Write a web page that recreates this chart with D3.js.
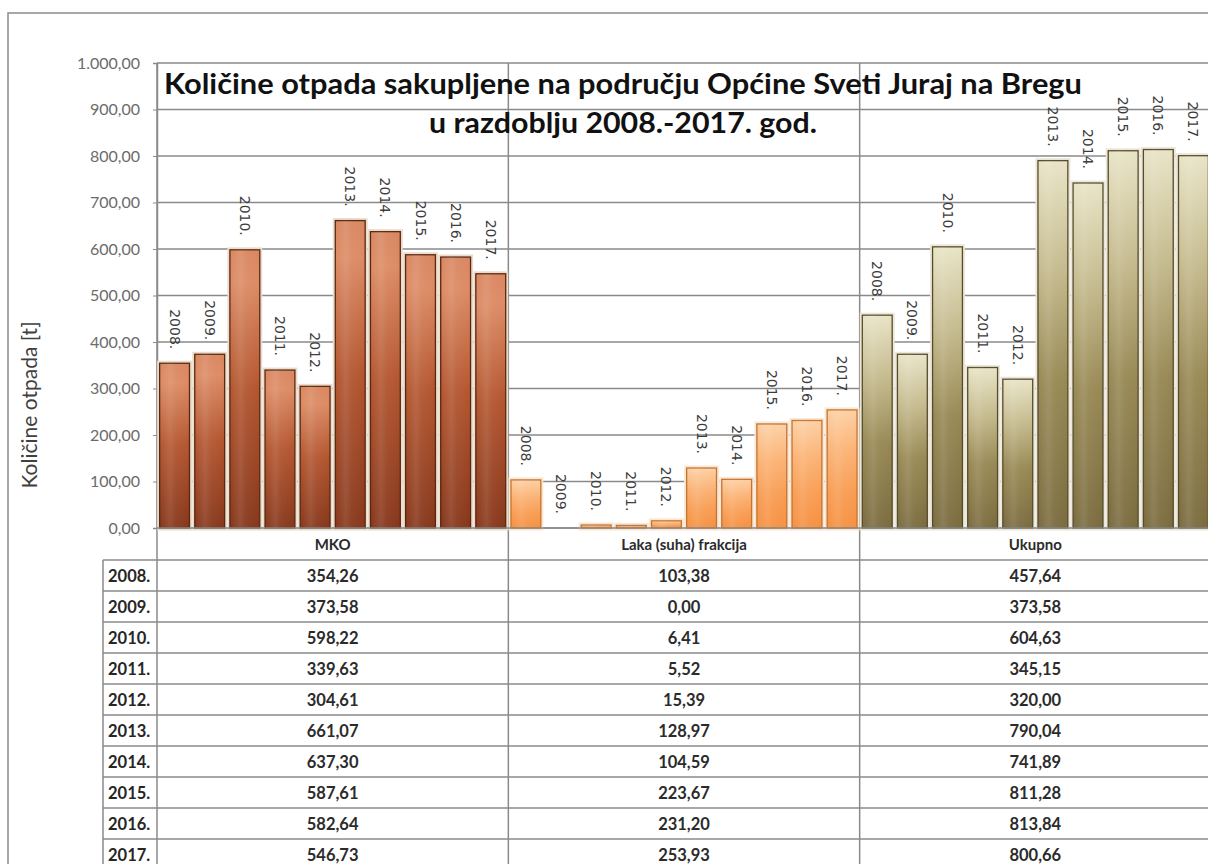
<!DOCTYPE html>
<html>
<head>
<meta charset="utf-8">
<script src="https://cdn.jsdelivr.net/npm/d3@7"></script>
<style>
  html, body { margin: 0; padding: 0; background: #ffffff; }
  svg { display: block; }
</style>
</head>
<body>
<svg id="chart" width="1208" height="864"></svg>
<script>
// ---- data ----
const categories = ["MKO", "Laka (suha) frakcija", "Ukupno"];
const years = ["2008.", "2009.", "2010.", "2011.", "2012.", "2013.", "2014.", "2015.", "2016.", "2017."];
const mko = [354.26, 373.58, 598.22, 339.63, 304.61, 661.07, 637.30, 587.61, 582.64, 546.73];
const laka = [103.38, 0.00, 6.41, 5.52, 15.39, 128.97, 104.59, 223.67, 231.20, 253.93];
const ukupno = [457.64, 373.58, 604.63, 345.15, 320.00, 790.04, 741.89, 811.28, 813.84, 800.66];
const yTicks = [0, 100, 200, 300, 400, 500, 600, 700, 800, 900, 1000];
const titleLines = ["Količine otpada sakupljene na području Općine Sveti Juraj na Bregu",
                    "u razdoblju 2008.-2017. god."];
const yTitle = "Količine otpada [t]";

// ---- styles ----
const gradStops = [
  [["0%", "#d98660"], ["12%", "#dc8b64"], ["50%", "#b3552f"], ["100%", "#86361a"]],
  [["0%", "#fdd0a4"], ["35%", "#fbb274"], ["70%", "#f89c52"], ["100%", "#f69040"]],
  [["0%", "#e8e4c6"], ["30%", "#c4b98c"], ["60%", "#978853"], ["100%", "#7a6b3e"]]
];
const strokeCols = ["#5a2812", "#c27433", "#554c30"];
const haloCols = ["#eadccb", "#fbe6d2", "#ebe6d6"];
const gridCol = "#8a8a8a";
const FONT = "Lato, 'Open Sans', 'Liberation Sans', sans-serif";

const seriesByCat = [mko, laka, ukupno];

const svg = d3.select("#chart");
const plot = { left: 157, right: 1211, top: 63, bottom: 528 };
const tableTop = 560, rowH = 31, rowLabelX = 103;

const locale = d3.formatLocale({ decimal: ",", thousands: ".", grouping: [3], currency: ["", ""] });
const fmt = locale.format(",.2f");

const x0 = d3.scaleBand().domain(categories).range([plot.left, plot.right]).paddingInner(0).paddingOuter(0);
const x1 = d3.scaleBand().domain(years).range([0, x0.bandwidth()]).paddingInner(0.15).paddingOuter(0.075);
const y = d3.scaleLinear().domain([0, 1000]).range([plot.bottom, plot.top]);

// gradients
const defs = svg.append("defs");
gradStops.forEach((stops, i) => {
  const g = defs.append("linearGradient").attr("id", "grad" + i)
    .attr("x1", 0).attr("y1", 0).attr("x2", 0).attr("y2", 1);
  stops.forEach(s => g.append("stop").attr("offset", s[0]).attr("stop-color", s[1]));
});
const sheen = defs.append("linearGradient").attr("id", "sheen").attr("x1", 0).attr("x2", 1).attr("y1", 0).attr("y2", 0);
[["0%", 0], ["35%", 0.12], ["55%", 0.05], ["100%", 0]].forEach(s =>
  sheen.append("stop").attr("offset", s[0]).attr("stop-color", "#ffffff").attr("stop-opacity", s[1]));

// outer chart border
svg.append("path").attr("d", "M8,864 L8,13 L1208,13")
  .attr("fill", "none").attr("stroke", "#8c8c8c").attr("stroke-width", 1.5);

// gridlines
svg.append("g").selectAll("line").data(yTicks).join("line")
  .attr("x1", plot.left).attr("x2", plot.right)
  .attr("y1", d => y(d)).attr("y2", d => y(d))
  .attr("stroke", gridCol).attr("stroke-width", 1.5);

// category separators (plot + table)
svg.append("g").selectAll("line").data(categories.map(c => x0(c)).concat([plot.right])).join("line")
  .attr("x1", d => d).attr("x2", d => d)
  .attr("y1", plot.top).attr("y2", 864)
  .attr("stroke", gridCol).attr("stroke-width", 1.5);

// y axis
const yAxis = d3.axisLeft(y).tickValues(yTicks).tickFormat(fmt).tickSize(4).tickPadding(13);
const ga = svg.append("g").attr("transform", `translate(${plot.left},0)`).call(yAxis);
ga.select(".domain").attr("stroke", gridCol).attr("stroke-width", 1.5);
ga.selectAll(".tick line").attr("stroke", gridCol);
ga.selectAll(".tick text").attr("fill", "#6b6b6b").style("font-family", FONT).style("font-size", "16px");

// y title
svg.append("text")
  .attr("transform", "translate(37,405) rotate(-90)")
  .attr("text-anchor", "middle")
  .attr("fill", "#404040")
  .style("font-family", FONT).style("font-size", "21px")
  .text(yTitle);

// bars
categories.forEach((cat, ci) => {
  const vals = seriesByCat[ci];
  const g = svg.append("g").attr("transform", `translate(${x0(cat)},0)`);
  const data = years.map((yr, i) => ({ yr, v: vals[i] }));
  // light halo behind bars (visible in the gaps)
  g.selectAll("rect.halo").data(data.filter(d => d.v > 0)).join("rect").attr("class", "halo")
    .attr("x", d => x1(d.yr)).attr("width", x1.bandwidth())
    .attr("y", d => y(d.v)).attr("height", d => y(0) - y(d.v))
    .attr("fill", "none").attr("stroke", haloCols[ci]).attr("stroke-width", 5);
  const bars = g.selectAll("g.bar").data(data).join("g").attr("class", "bar");
  bars.append("rect")
    .attr("x", d => x1(d.yr)).attr("width", x1.bandwidth())
    .attr("y", d => y(d.v)).attr("height", d => y(0) - y(d.v))
    .attr("fill", `url(#grad${ci})`)
    .attr("stroke", strokeCols[ci]).attr("stroke-width", 1.3);
  bars.append("rect")
    .attr("x", d => x1(d.yr)).attr("width", x1.bandwidth())
    .attr("y", d => y(d.v)).attr("height", d => y(0) - y(d.v))
    .attr("fill", "url(#sheen)");
  // data labels (series name), rotated
  bars.append("text")
    .attr("transform", d => `translate(${x1(d.yr) + x1.bandwidth() / 2},${y(d.v) - 14}) rotate(90)`)
    .attr("text-anchor", "end")
    .attr("dominant-baseline", "central")
    .attr("fill", "#3c3c3c")
    .style("font-family", "'DejaVu Sans', sans-serif").style("font-size", "14px")
    .text(d => d.yr);
});

// x axis line
svg.append("line").attr("x1", plot.left).attr("x2", plot.right)
  .attr("y1", plot.bottom).attr("y2", plot.bottom)
  .attr("stroke", gridCol).attr("stroke-width", 1.5);

// data table
const tbl = svg.append("g");
tbl.selectAll("line.h").data(d3.range(years.length + 1)).join("line").attr("class", "h")
  .attr("x1", rowLabelX).attr("x2", plot.right)
  .attr("y1", i => tableTop + i * rowH).attr("y2", i => tableTop + i * rowH)
  .attr("stroke", gridCol).attr("stroke-width", 1.5);
tbl.append("line").attr("x1", rowLabelX).attr("x2", rowLabelX)
  .attr("y1", tableTop).attr("y2", 864).attr("stroke", gridCol).attr("stroke-width", 1.5);
tbl.selectAll("text.hd").data(categories).join("text").attr("class", "hd")
  .attr("x", d => x0(d) + x0.bandwidth() / 2).attr("y", (plot.bottom + tableTop) / 2)
  .attr("text-anchor", "middle").attr("dominant-baseline", "central")
  .attr("fill", "#2b2b2b").style("font-family", FONT).style("font-size", "15px").style("font-weight", "bold")
  .text(d => d);
tbl.selectAll("text.rl").data(years).join("text").attr("class", "rl")
  .attr("x", rowLabelX + 5).attr("y", (d, i) => tableTop + i * rowH + rowH / 2)
  .attr("dominant-baseline", "central")
  .attr("fill", "#262626").style("font-family", FONT).style("font-size", "16.5px").style("font-weight", "bold")
  .text(d => d);
categories.forEach((cat, ci) => {
  tbl.append("g").selectAll("text").data(seriesByCat[ci]).join("text")
    .attr("x", x0(cat) + x0.bandwidth() / 2)
    .attr("y", (d, i) => tableTop + i * rowH + rowH / 2)
    .attr("text-anchor", "middle").attr("dominant-baseline", "central")
    .attr("fill", "#2b2b2b").style("font-family", FONT).style("font-size", "16.5px").style("font-weight", "bold")
    .text(d => fmt(d));
});

// title (drawn on top, no background)
const titleX = 623;
svg.append("text").attr("x", titleX).attr("y", 94).attr("text-anchor", "middle")
  .attr("fill", "#111").style("font-family", FONT).style("font-size", "28px").style("font-weight", "bold")
  .attr("textLength", 918).attr("lengthAdjust", "spacingAndGlyphs")
  .text(titleLines[0]);
svg.append("text").attr("x", titleX).attr("y", 133).attr("text-anchor", "middle")
  .attr("fill", "#111").style("font-family", FONT).style("font-size", "28px").style("font-weight", "bold")
  .attr("textLength", 388).attr("lengthAdjust", "spacingAndGlyphs")
  .text(titleLines[1]);
</script>
</body>
</html>
